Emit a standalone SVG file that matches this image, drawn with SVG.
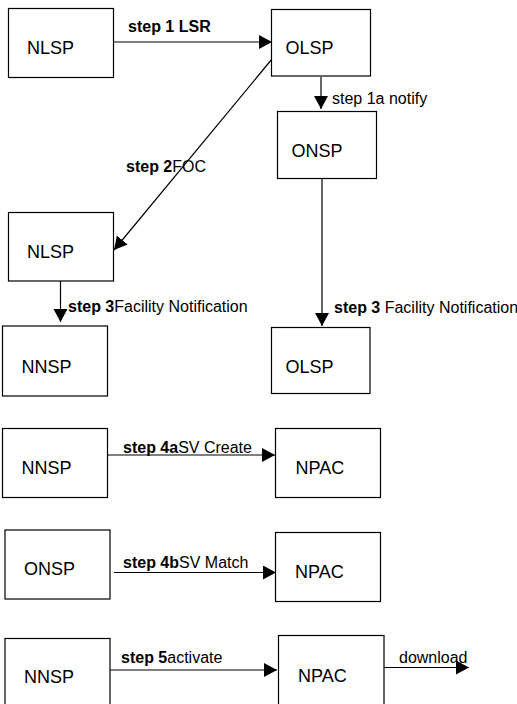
<svg xmlns="http://www.w3.org/2000/svg" width="517" height="704" viewBox="0 0 517 704">
<defs>
<style>
.box{fill:#fff;stroke:#000;stroke-width:1.2}
.nt{font-family:"Liberation Sans",Arial,sans-serif;font-size:18px;fill:#000}
.lb{font-family:"Liberation Sans",Arial,sans-serif;font-size:16px;fill:#000}
.b{font-weight:bold}
.ln{stroke:#000;stroke-width:1.2;fill:none;marker-end:url(#ah)}
</style>
<marker id="ah" markerUnits="userSpaceOnUse" markerWidth="14" markerHeight="15" refX="13" refY="7" orient="auto">
<path d="M0,0 L13,7 L0,14 z" fill="#000"/>
</marker>
</defs>
<rect width="517" height="704" fill="#fff"/>
<g id="connectors">
<line class="ln" x1="113" y1="42" x2="272" y2="42"/>
<line class="ln" x1="321" y1="77" x2="321" y2="109"/>
<line class="ln" x1="272" y1="59" x2="114" y2="250"/>
<line class="ln" x1="322" y1="178" x2="322" y2="326"/>
<line class="ln" x1="60.5" y1="281" x2="60.5" y2="322"/>
<line class="ln" x1="107" y1="455" x2="275" y2="455"/>
<line class="ln" x1="114" y1="572.5" x2="276" y2="572.5"/>
<line class="ln" x1="110" y1="670" x2="277" y2="670"/>
<line class="ln" x1="384" y1="667.5" x2="469" y2="667.5"/>
<text class="lb" x="128" y="32"><tspan class="b">step 1 LSR</tspan></text>
<text class="lb" x="332" y="104">step 1a notify</text>
<text class="lb" x="126" y="171.5"><tspan class="b">step 2</tspan>FOC</text>
<text class="lb" x="334" y="312.5"><tspan class="b">step 3</tspan> Facility Notification</text>
<text class="lb" x="68" y="311.5"><tspan class="b">step 3</tspan>Facility Notification</text>
<text class="lb" x="123" y="452.5"><tspan class="b">step 4a</tspan>SV Create</text>
<text class="lb" x="123" y="568"><tspan class="b">step 4b</tspan>SV Match</text>
<text class="lb" x="121" y="662.5"><tspan class="b">step 5</tspan>activate</text>
<text class="lb" x="399" y="663">download</text>
</g>
<g id="n1"><rect class="box" x="8.5" y="8.5" width="105" height="69"/><text class="nt" x="27" y="53.5">NLSP</text></g>
<g id="n2"><rect class="box" x="271.5" y="9.5" width="99" height="66.5"/><text class="nt" x="285.5" y="54">OLSP</text></g>
<g id="n3"><rect class="box" x="277.5" y="111.5" width="99" height="67"/><text class="nt" x="291.5" y="156.5">ONSP</text></g>
<g id="n4"><rect class="box" x="8.5" y="212.5" width="105" height="68.5"/><text class="nt" x="27" y="257.5">NLSP</text></g>
<g id="n5"><rect class="box" x="271.5" y="327.5" width="98.5" height="66"/><text class="nt" x="285.5" y="373">OLSP</text></g>
<g id="n6"><rect class="box" x="2.5" y="326" width="105" height="70"/><text class="nt" x="21.5" y="372.5">NNSP</text></g>
<g id="n7"><rect class="box" x="2.5" y="428.5" width="105" height="69"/><text class="nt" x="21.5" y="474">NNSP</text></g>
<g id="n8"><rect class="box" x="275.5" y="428.5" width="105" height="69"/><text class="nt" x="295.5" y="473.5">NPAC</text></g>
<g id="n9"><rect class="box" x="5" y="530" width="105" height="69"/><text class="nt" x="24" y="575">ONSP</text></g>
<g id="n10"><rect class="box" x="275.5" y="532.5" width="105" height="69"/><text class="nt" x="295" y="577.5">NPAC</text></g>
<g id="n11"><rect class="box" x="5" y="638.5" width="105" height="72"/><text class="nt" x="24" y="683">NNSP</text></g>
<g id="n12"><rect class="box" x="278.5" y="635.5" width="105.5" height="75"/><text class="nt" x="298" y="681.5">NPAC</text></g>
</svg>
